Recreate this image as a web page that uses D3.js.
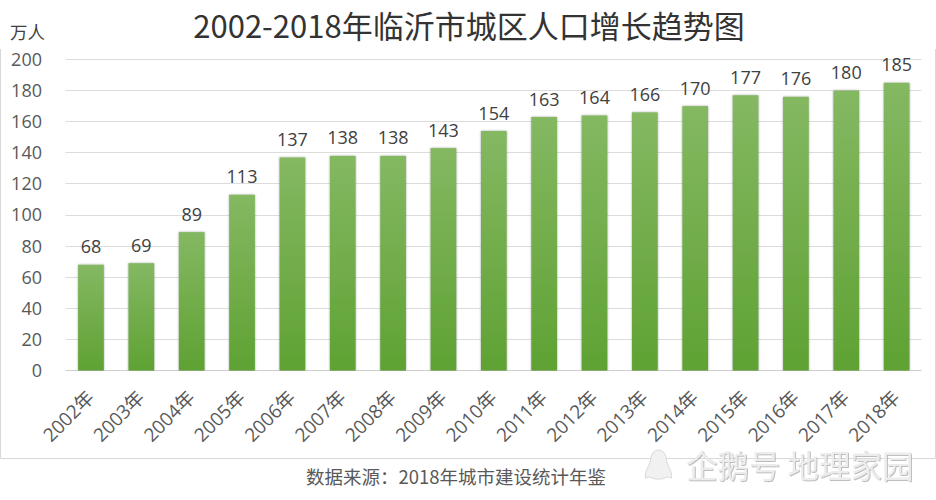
<!DOCTYPE html>
<html><head><meta charset="utf-8">
<script src="https://cdn.jsdelivr.net/npm/d3@7/dist/d3.min.js"></script>
<style>
html,body{margin:0;padding:0;background:#fff;overflow:hidden}
svg{display:block}
text{font-family:"Noto Sans CJK SC","Open Sans",sans-serif}
.num{font-family:"Open Sans","Noto Sans CJK SC",sans-serif}
</style></head><body>
<svg id="c" width="936" height="500"></svg>
<script>
const categories=["2002年","2003年","2004年","2005年","2006年","2007年","2008年","2009年","2010年","2011年","2012年","2013年","2014年","2015年","2016年","2017年","2018年"];
const population=[68,69,89,113,137,138,138,143,154,163,164,166,170,177,176,180,185];
const yTicks=[0,20,40,60,80,100,120,140,160,180,200];
const titleText="2002-2018年临沂市城区人口增长趋势图";
const unitText="万人";
const sourceText="数据来源：2018年城市建设统计年鉴";
const watermarkText="企鹅号 地理家园";

const svg=d3.select("#c");
const x=d3.scaleBand().domain(categories).range([65.8,921.8]).paddingInner(0.49).paddingOuter(0.245);
const y=d3.scaleLinear().domain([0,200]).range([370.5,59.5]);

const defs=svg.append("defs");
const g=defs.append("linearGradient").attr("id","bar").attr("x1",0).attr("y1",0).attr("x2",0).attr("y2",1);
g.append("stop").attr("offset",0).attr("stop-color","#84b862");
g.append("stop").attr("offset",1).attr("stop-color","#5fa233");
const f=defs.append("filter").attr("id","sh").attr("x","-30%").attr("width","160%").attr("y","-5%").attr("height","105%");
f.append("feDropShadow").attr("dx",0).attr("dy",0).attr("stdDeviation",1.3).attr("flood-color","#555").attr("flood-opacity",0.55);
const wm=defs.append("filter").attr("id","wm").attr("x","-5%").attr("width","110%").attr("y","-10%").attr("height","120%");
wm.append("feDropShadow").attr("dx",0.8).attr("dy",0.8).attr("stdDeviation",0.5).attr("flood-color","#999").attr("flood-opacity",0.8);

// chart frame
svg.append("path").attr("d","M0.5,49V458.5H935.5V49").attr("fill","none").attr("stroke","#d9d9d9").attr("stroke-width",1);

// title, unit, source
svg.append("text").attr("x",469).attr("y",38).attr("text-anchor","middle").attr("font-size",31).attr("fill","#333").text(titleText);
svg.append("text").attr("x",10).attr("y",39).attr("font-size",17.5).attr("fill","#404040").text(unitText);
svg.append("text").attr("x",456).attr("y",484).attr("text-anchor","middle").attr("font-size",18.5).attr("fill","#595959").text(sourceText);

// gridlines
svg.append("g").selectAll("line").data(yTicks).join("line")
 .attr("x1",65.5).attr("x2",921.5).attr("y1",d=>Math.floor(y(d))+.5).attr("y2",d=>Math.floor(y(d))+.5)
 .attr("stroke",d=>d===0?"#cfcfcf":"#dcdcdc").attr("stroke-width",1);

// y axis
const yAxis=svg.append("g").attr("transform","translate(42,0)").call(d3.axisLeft(y).tickValues(yTicks).tickSize(0).tickPadding(0));
yAxis.select(".domain").remove();
yAxis.selectAll("text").attr("class","num").attr("font-size",18).attr("fill","#595959").attr("dy","0.33em");

// bars
svg.append("g").selectAll("rect").data(population).join("rect")
 .attr("x",(d,i)=>x(categories[i])).attr("width",x.bandwidth())
 .attr("y",d=>y(d)).attr("height",d=>y(0)-y(d))
 .attr("fill","url(#bar)").attr("filter","url(#sh)");

// value labels
svg.append("g").selectAll("text").data(population).join("text").attr("class","num")
 .attr("x",(d,i)=>x(categories[i])+x.bandwidth()/2).attr("y",d=>y(d)-11.5)
 .attr("text-anchor","middle").attr("font-size",18).attr("fill","#404040").text(d=>d);

// x labels
svg.append("g").selectAll("text").data(categories).join("text").attr("class","num")
 .attr("text-anchor","end").attr("font-size",19).attr("fill","#595959")
 .attr("transform",d=>`translate(${x(d)+x.bandwidth()/2-5},${389.5}) rotate(-45)`)
 .attr("dy","0.7em").text(d=>d);

// watermark: penguin glyph and text
const peng=svg.append("g").attr("transform","translate(658.5,465)").attr("fill","#f1f1f1").attr("stroke","#d8d8d8").attr("stroke-width",1);
peng.append("path").attr("d","M-13,13C-14,5-9,1-8,-4C-8,-11-4,-15,0,-15C5,-15,8,-10,8,-4C9,1,14,6,13,13C8,11,8,13,3,14H-3C-8,13-8,11-13,13Z");
svg.append("text").attr("x",686).attr("y",478).attr("font-size",31.5).attr("fill","#ececec").attr("filter","url(#wm)").text(watermarkText);
</script></body></html>
